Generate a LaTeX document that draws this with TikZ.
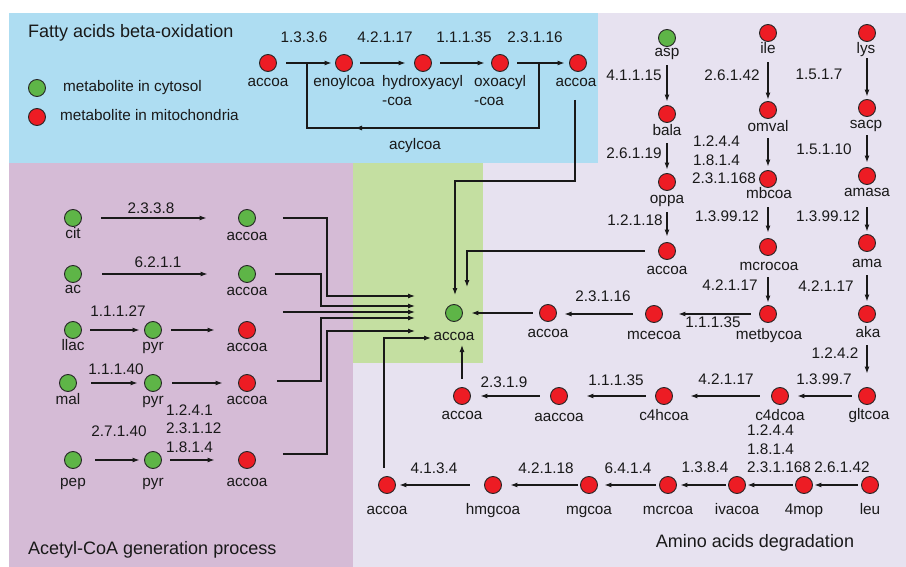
\documentclass[tikz,border=0pt]{standalone}
\usepackage{fontspec}
\setmainfont{Liberation Sans}
\usetikzlibrary{arrows.meta}
\definecolor{bgblue}{RGB}{174,221,242}
\definecolor{bgpurple}{RGB}{213,187,214}
\definecolor{bggreen}{RGB}{196,223,161}
\definecolor{bglav}{RGB}{231,226,240}
\definecolor{mred}{RGB}{237,28,36}
\definecolor{mgreen}{RGB}{94,181,71}
\newcommand\lab{\fontsize{15.3}{18}\selectfont}
\newcommand\ttl{\fontsize{18}{21}\selectfont}
\begin{document}
\begin{tikzpicture}[x=1pt,y=-1pt,
  met/.style={circle,draw=black!85,line width=0.9pt,minimum size=17pt,inner sep=0pt},
  mito/.style={met,fill=mred},
  cyto/.style={met,fill=mgreen},
  lb/.style={font=\lab,inner sep=0pt,text height=11pt,text depth=3.2pt,text=black!90},
  tt/.style={font=\ttl,inner sep=0pt,anchor=west,text=black!90},
  arr/.style={line width=1.1pt,draw=black!90,-{Latex[length=7pt,width=5pt]}},
  ln/.style={line width=1.1pt,draw=black!90}]
\useasboundingbox (0,0) rectangle (906,567);
\fill[white] (0,0) rectangle (906,567);
\fill[bglav] (353,13) rectangle (906,567);
\fill[bgblue] (9,13) rectangle (598,163);
\fill[bgpurple] (9,163) rectangle (353,567);
\fill[bggreen] (353,163) rectangle (483,363);

% titles
\node[tt] (t1) at (28,33) {Fatty acids beta-oxidation};
\node[tt] (t2) at (28,550) {Acetyl-CoA generation process};
\node[tt,anchor=center] (t3) at (755,543) {Amino acids degradation};

% legend
\node[cyto] (lg1) at (37,88) {};
\node[lb,anchor=west] (lg1t) at (63,88) {metabolite in cytosol};
\node[mito] (lg2) at (37,117) {};
\node[lb,anchor=west] (lg2t) at (60,117) {metabolite in mitochondria};

% fatty acid beta-oxidation
\node[mito] (fa1) at (268,63) {};
\node[lb] (fa1l) at (268,83) {accoa};
\node[mito] (fa2) at (344,63) {};
\node[lb] (fa2l) at (344,83) {enoylcoa};
\node[mito] (fa3) at (423,63) {};
\node[lb,anchor=west] (fa3l) at (382,83) {hydroxyacyl};
\node[lb,anchor=west] (fa3m) at (382,102) {-coa};
\node[mito] (fa4) at (500,63) {};
\node[lb,anchor=west] (fa4l) at (474,83) {oxoacyl};
\node[lb,anchor=west] (fa4m) at (474,102) {-coa};
\node[mito] (fa5) at (578,63) {};
\node[lb] (fa5l) at (576,83) {accoa};
\node[lb] (e1) at (304,39) {1.3.3.6};
\node[lb] (e2) at (385,39) {4.2.1.17};
\node[lb] (e3) at (464,39) {1.1.1.35};
\node[lb] (e4) at (535,39) {2.3.1.16};
\draw[arr,shorten <=9.5pt,shorten >=3.5pt] (fa1) -- (fa2);
\draw[arr,shorten <=7.5pt,shorten >=8.5pt] (fa2) -- (fa3);
\draw[arr,shorten <=8.5pt,shorten >=6.5pt] (fa3) -- (fa4);
\draw[arr,shorten <=8.5pt,shorten >=4.5pt] (fa4) -- (fa5);
\coordinate (L1) at (539,63);
\coordinate (L2) at (539,128);
\coordinate (L3) at (307,128);
\coordinate (L4) at (307,63);
\coordinate (Lm) at (355,128);
\draw[ln] (L1) -- (L2) -- (L3) -- (L4);
\draw[arr] (L2) -- (Lm);
\node[lb] (acyl) at (415,146) {acylcoa};

% central accoa
\node[cyto] (C) at (454,313) {};
\node[lb] (Cl) at (454,337) {accoa};
\coordinate (Cw1) at (415,296);
\coordinate (Cw2) at (415,306);
\coordinate (Cw3) at (415,312);
\coordinate (Cw4) at (415,318);
\coordinate (Cw5) at (415,331);
\coordinate (Cw6) at (431,338);
\coordinate (Cn1) at (455,295);
\coordinate (Cn2) at (467,287);
\coordinate (Cs) at (462,345);
\coordinate (fa5s) at (575,100);
\coordinate (fa5b) at (575,181);
\draw[arr] (fa5s) -- (fa5b) -| (Cn1);

% acetyl-CoA generation
\node[cyto] (cit) at (73,218) {};
\node[lb] (citl) at (73,235) {cit};
\node[cyto] (a1) at (247,218) {};
\node[lb] (a1l) at (247,237) {accoa};
\node[lb] (g1) at (151,210) {2.3.3.8};
\draw[arr,shorten <=19.5pt,shorten >=31.5pt] (cit) -- (a1);

\node[cyto] (ac) at (73,274) {};
\node[lb] (acl) at (73,290) {ac};
\node[cyto] (a2) at (247,274) {};
\node[lb] (a2l) at (247,292) {accoa};
\node[lb] (g2) at (158,264) {6.2.1.1};
\draw[arr,shorten <=20.5pt,shorten >=30.5pt] (ac) -- (a2);

\node[cyto] (llac) at (73,330) {};
\node[lb] (llacl) at (73,347) {llac};
\node[cyto] (p1) at (153,330) {};
\node[lb] (p1l) at (153,347) {pyr};
\node[mito] (a3) at (247,330) {};
\node[lb] (a3l) at (247,348) {accoa};
\node[lb] (g3) at (118,313) {1.1.1.27};
\draw[arr,shorten <=8.5pt,shorten >=4.5pt] (llac) -- (p1);
\draw[arr,shorten <=9.5pt,shorten >=23.5pt] (p1) -- (a3);

\node[cyto] (mal) at (68,383) {};
\node[lb] (mall) at (68,401) {mal};
\node[cyto] (p2) at (153,383) {};
\node[lb] (p2l) at (153,401) {pyr};
\node[mito] (a4) at (247,383) {};
\node[lb] (a4l) at (247,401) {accoa};
\node[lb] (g4) at (116,371) {1.1.1.40};
\draw[arr,shorten <=14.5pt,shorten >=6.5pt] (mal) -- (p2);
\draw[arr,shorten <=10.5pt,shorten >=15.5pt] (p2) -- (a4);

\node[cyto] (pep) at (73,460) {};
\node[lb] (pepl) at (73,483) {pep};
\node[cyto] (p3) at (153,460) {};
\node[lb] (p3l) at (153,483) {pyr};
\node[mito] (a5) at (247,460) {};
\node[lb] (a5l) at (247,483) {accoa};
\node[lb] (g5) at (119,433) {2.7.1.40};
\node[lb,anchor=west] (g6) at (166,412) {1.2.4.1};
\node[lb,anchor=west] (g7) at (166,430) {2.3.1.12};
\node[lb,anchor=west] (g8) at (166,449) {1.8.1.4};
\draw[arr,shorten <=13.5pt,shorten >=4.5pt] (pep) -- (p3);
\draw[arr,shorten <=8.5pt,shorten >=23.5pt] (p3) -- (a5);

\draw[arr] ([xshift=27pt]a1.east) -| (327,296) -- (Cw1);
\draw[arr] ([xshift=19pt]a2.east) -| (321,306) -- (Cw2);
\draw[arr] ([xshift=27pt,yshift=18pt]a3.east) -- (Cw3);
\draw[arr] ([xshift=21pt,yshift=2pt]a4.east) -| (321,318) -- (Cw4);
\draw[arr] ([xshift=27pt,yshift=6pt]a5.east) -| (327,331) -- (Cw5);

% amino acids: column asp
\node[cyto] (asp) at (667,38) {};
\node[lb] (aspl) at (667,53) {asp};
\node[mito] (bala) at (667,114) {};
\node[lb] (balal) at (667,132) {bala};
\node[mito] (oppa) at (667,182) {};
\node[lb] (oppal) at (667,200) {oppa};
\node[mito] (ao) at (667,251) {};
\node[lb] (aol) at (667,271) {accoa};
\node[lb] (h1) at (634,77) {4.1.1.15};
\node[lb] (h2) at (634,155) {2.6.1.19};
\node[lb] (h3) at (635,222) {1.2.1.18};
\draw[arr,shorten <=18.5pt,shorten >=3.5pt] (asp) -- (bala);
\draw[arr,shorten <=20.5pt,shorten >=3.5pt] (bala) -- (oppa);
\draw[arr,shorten <=21.5pt,shorten >=5.5pt] (oppa) -- (ao);
\draw[arr] ([xshift=-13.5pt]ao.west) -| (Cn2);

% column ile
\node[mito] (ile) at (768,33) {};
\node[lb] (ilel) at (768,50) {ile};
\node[mito] (omval) at (768,110) {};
\node[lb] (omvall) at (768,128) {omval};
\node[mito] (mbcoa) at (768,179) {};
\node[lb] (mbcoal) at (769,195) {mbcoa};
\node[mito] (mcrocoa) at (768,247) {};
\node[lb] (mcrocoal) at (769,267) {mcrocoa};
\node[mito] (metby) at (768,314) {};
\node[lb] (metbyl) at (769,336) {metbycoa};
\node[lb] (i1) at (732,77) {2.6.1.42};
\node[lb,anchor=west] (i2) at (693,143) {1.2.4.4};
\node[lb,anchor=west] (i3) at (693,162) {1.8.1.4};
\node[lb,anchor=west] (i4) at (692,180) {2.3.1.168};
\node[lb] (i5) at (727,218) {1.3.99.12};
\node[lb] (i6) at (730,287) {4.2.1.17};
\draw[arr,shorten <=20.5pt,shorten >=1.5pt] (ile) -- (omval);
\draw[arr,shorten <=19.5pt,shorten >=3.5pt] (omval) -- (mbcoa);
\draw[arr,shorten <=19.5pt,shorten >=5.5pt] (mbcoa) -- (mcrocoa);
\draw[arr,shorten <=21.5pt,shorten >=2.5pt] (mcrocoa) -- (metby);

\node[mito] (mce) at (654,314) {};
\node[lb] (mcel) at (654,336) {mcecoa};
\node[mito] (am) at (548,313) {};
\node[lb] (aml) at (548,334) {accoa};
\node[lb] (i7) at (713,324) {1.1.1.35};
\node[lb] (i8) at (603,298) {2.3.1.16};
\draw[arr,shorten <=8.5pt,shorten >=15.5pt] (metby) -- (mce);
\draw[arr,shorten <=12.5pt,shorten >=16.5pt] (mce) -- (mce -| am);
\draw[arr,shorten <=6.5pt,shorten >=8.5pt] (am) -- (C);

% column lys
\node[mito] (lys) at (867,33) {};
\node[lb] (lysl) at (866,50) {lys};
\node[mito] (sacp) at (867,108) {};
\node[lb] (sacpl) at (866,125) {sacp};
\node[mito] (amasa) at (867,176) {};
\node[lb] (amasal) at (867,193) {amasa};
\node[mito] (ama) at (867,243) {};
\node[lb] (amal) at (867,264) {ama};
\node[mito] (aka) at (867,314) {};
\node[lb] (akal) at (868,334) {aka};
\node[lb] (k1) at (819,76) {1.5.1.7};
\node[lb] (k2) at (824,151) {1.5.1.10};
\node[lb] (k3) at (828,218) {1.3.99.12};
\node[lb] (k4) at (826,288) {4.2.1.17};
\node[lb] (k5) at (835,355) {1.2.4.2};
\draw[arr,shorten <=16.5pt,shorten >=2.5pt] (lys) -- (sacp);
\draw[arr,shorten <=18.5pt,shorten >=4.5pt] (sacp) -- (amasa);
\draw[arr,shorten <=22.5pt,shorten >=2.5pt] (amasa) -- (ama);
\draw[arr,shorten <=23.5pt,shorten >=3.5pt] (ama) -- (aka);

% row gltcoa
\node[mito] (glt) at (867,396) {};
\node[lb] (gltl) at (869,416) {gltcoa};
\node[mito] (c4d) at (780,396) {};
\node[lb] (c4dl) at (780,417) {c4dcoa};
\node[mito] (c4h) at (664,396) {};
\node[lb] (c4hl) at (664,417) {c4hcoa};
\node[mito] (aac) at (559,396) {};
\node[lb] (aacl) at (559,418) {aaccoa};
\node[mito] (aa) at (462,396) {};
\node[lb] (aal) at (462,416) {accoa};
\draw[arr,shorten <=22.5pt,shorten >=13.5pt] (aka) -- (glt);
\node[lb] (r1) at (824,381) {1.3.99.7};
\node[lb] (r2) at (726,381) {4.2.1.17};
\node[lb] (r3) at (616,382) {1.1.1.35};
\node[lb] (r4) at (504,384) {2.3.1.9};
\draw[arr,shorten <=6.5pt,shorten >=8.5pt] (glt) -- (c4d);
\draw[arr,shorten <=11.5pt,shorten >=17.5pt] (c4d) -- (c4h);
\draw[arr,shorten <=9.5pt,shorten >=18.5pt] (c4h) -- (aac);
\draw[arr,shorten <=10.5pt,shorten >=9.5pt] (aac) -- (aa);
\draw[arr] ([yshift=8.5pt]aa.north) -- (Cs);

% row leu
\node[mito] (leu) at (870,485) {};
\node[lb] (leul) at (870,511) {leu};
\node[mito] (mop) at (804,485) {};
\node[lb] (mopl) at (804,511) {4mop};
\node[mito] (iva) at (737,485) {};
\node[lb] (ival) at (737,511) {ivacoa};
\node[mito] (mcr) at (668,485) {};
\node[lb] (mcrl) at (668,511) {mcrcoa};
\node[mito] (mg) at (589,485) {};
\node[lb] (mgl) at (589,511) {mgcoa};
\node[mito] (hmg) at (493,485) {};
\node[lb] (hmgl) at (493,511) {hmgcoa};
\node[mito] (ab) at (387,485) {};
\node[lb] (abl) at (387,511) {accoa};
\node[lb] (s1) at (842,469) {2.6.1.42};
\node[lb,anchor=west] (s2) at (747,432) {1.2.4.4};
\node[lb,anchor=west] (s3) at (747,451) {1.8.1.4};
\node[lb,anchor=west] (s4) at (747,469) {2.3.1.168};
\node[lb] (s5) at (705,469) {1.3.8.4};
\node[lb] (s6) at (628,470) {6.4.1.4};
\node[lb] (s7) at (546,470) {4.2.1.18};
\node[lb] (s8) at (434,470) {4.1.3.4};
\draw[arr,shorten <=3.5pt,shorten >=1.5pt] (leu) -- (mop);
\draw[arr,shorten <=2.5pt,shorten >=1.5pt] (mop) -- (iva);
\draw[arr,shorten <=2.5pt,shorten >=3.5pt] (iva) -- (mcr);
\draw[arr,shorten <=3.5pt,shorten >=6.5pt] (mcr) -- (mg);
\draw[arr,shorten <=2.5pt,shorten >=8.5pt] (mg) -- (hmg);
\draw[arr,shorten <=14.5pt,shorten >=3.5pt] (hmg) -- (ab);
\draw[arr] ([xshift=-3pt,yshift=8.5pt]ab.north) |- (Cw6);
\end{tikzpicture}
\end{document}
